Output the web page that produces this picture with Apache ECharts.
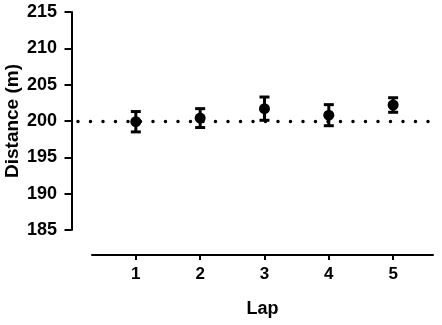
<!DOCTYPE html>
<html>
<head>
<meta charset="utf-8">
<script src="https://cdn.jsdelivr.net/npm/echarts@6/dist/echarts.min.js"></script>
<style>html,body{margin:0;padding:0;background:#fff}#c{width:442px;height:325px}</style>
</head>
<body>
<div id="c"></div>
<script>
var laps = [1, 2, 3, 4, 5];
var means = [199.9, 200.4, 201.7, 200.8, 202.2];
var errs = [1.4, 1.3, 1.6, 1.45, 1.0];
var refValue = 200;
var yTicks = [185, 190, 195, 200, 205, 210, 215];

var font = '"Liberation Sans", Arial, sans-serif';
var chart = echarts.init(document.getElementById('c'), null, {renderer: 'canvas'});

var pts = laps.map(function (l, i) { return [l, means[i]]; });
var bars = laps.map(function (l, i) { return [l, means[i] - errs[i], means[i] + errs[i]]; });

chart.setOption({
  animation: false,
  backgroundColor: '#fff',
  grid: [
    {left: 67, right: 9, top: 12, bottom: 95, outerBoundsMode: 'none', containLabel: false},
    {left: 92, right: 9, top: 254, height: 1, outerBoundsMode: 'none', containLabel: false}
  ],
  xAxis: [
    {gridIndex: 0, type: 'value', min: -0.07, max: 5.62, show: false},
    {gridIndex: 1, type: 'value', min: 0.319, max: 5.62, interval: 1,
     position: 'bottom',
     axisLine: {show: true, lineStyle: {color: '#000', width: 2}},
     axisTick: {show: true, length: 5, lineStyle: {color: '#000', width: 2},
                customValues: laps},
     axisLabel: {color: '#000', fontFamily: font, fontWeight: 'bold', fontSize: 17, margin: 11,
                 customValues: laps},
     splitLine: {show: false},
     name: 'Lap', nameLocation: 'middle', nameGap: 45, nameMoveOverlap: false,
     nameTextStyle: {color: '#000', fontFamily: font, fontWeight: 'bold', fontSize: 18}}
  ],
  yAxis: [
    {gridIndex: 0, type: 'value', min: 185, max: 215, interval: 5,
     axisLine: {show: true, lineStyle: {color: '#000', width: 2}},
     axisTick: {show: true, length: 7, lineStyle: {color: '#000', width: 2}},
     axisLabel: {color: '#000', fontFamily: font, fontWeight: 'bold', fontSize: 18, margin: 10,
                 customValues: yTicks},
     splitLine: {show: false},
     name: 'Distance (m)', nameLocation: 'middle', nameGap: 45, nameMoveOverlap: false,
     nameTextStyle: {color: '#000', fontFamily: font, fontWeight: 'bold', fontSize: 19}},
    {gridIndex: 1, type: 'value', show: false, min: 0, max: 1}
  ],
  series: [
    {
      type: 'custom', xAxisIndex: 0, yAxisIndex: 0,
      data: bars,
      encode: {x: 0, y: [1, 2]},
      renderItem: function (params, api) {
        var x = api.value(0);
        var lo = api.coord([x, api.value(1)]);
        var hi = api.coord([x, api.value(2)]);
        var hw = 5;
        var st = {stroke: '#000', lineWidth: 3, fill: null};
        return {type: 'group', children: [
          {type: 'line', shape: {x1: lo[0], y1: lo[1], x2: hi[0], y2: hi[1]}, style: st},
          {type: 'line', shape: {x1: lo[0] - hw, y1: lo[1], x2: lo[0] + hw, y2: lo[1]}, style: st},
          {type: 'line', shape: {x1: hi[0] - hw, y1: hi[1], x2: hi[0] + hw, y2: hi[1]}, style: st}
        ]};
      },
      z: 3
    },
    {
      type: 'scatter', xAxisIndex: 0, yAxisIndex: 0,
      data: pts, symbol: 'circle', symbolSize: 11,
      itemStyle: {color: '#000', opacity: 1},
      emphasis: {disabled: true},
      z: 4,
      markLine: {
        silent: true, symbol: ['none', 'none'], label: {show: false},
        lineStyle: {color: '#000', type: [0.1, 12.4], width: 3.4, cap: 'round', opacity: 1},
        data: [[{coord: [0.1, refValue]}, {coord: [5.62, refValue]}]]
      }
    }
  ]
});
</script>
</body>
</html>
